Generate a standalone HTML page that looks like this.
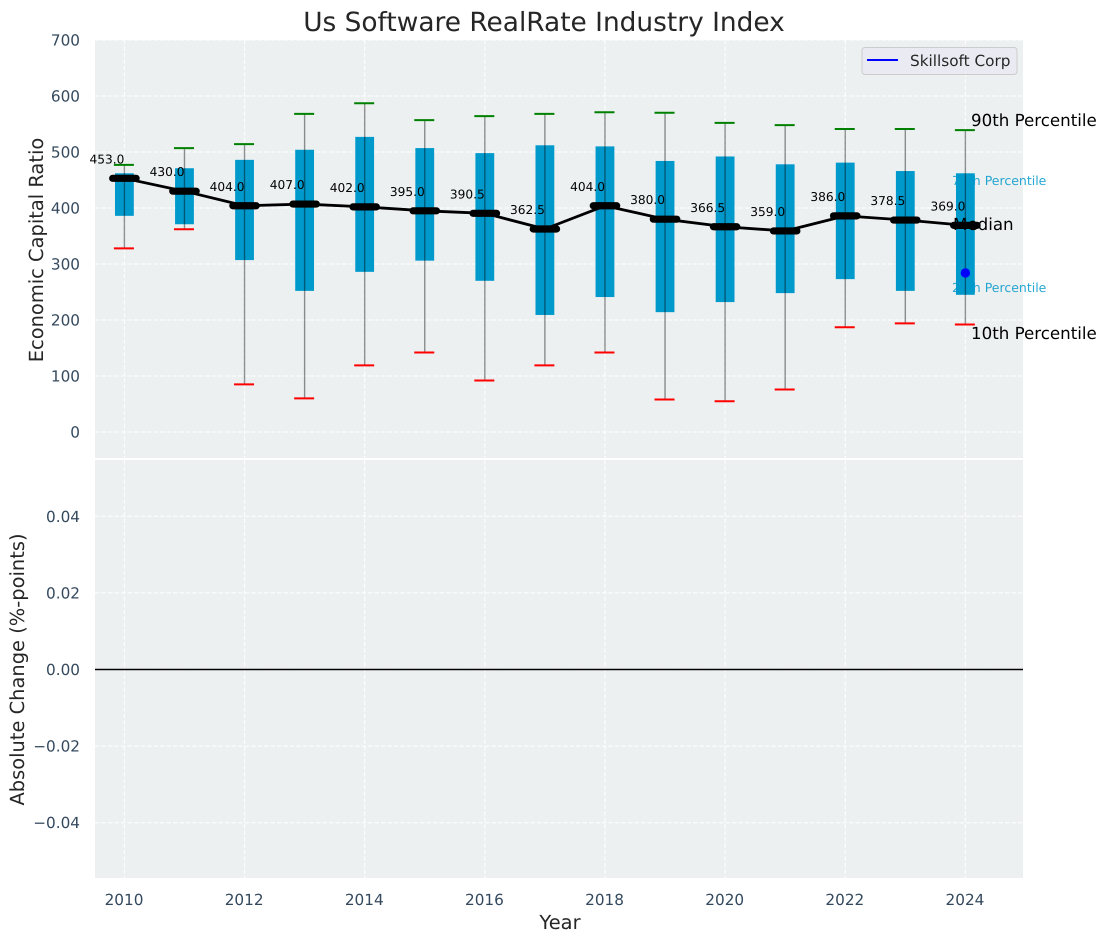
<!DOCTYPE html>
<html>
<head>
<meta charset="utf-8">
<title>Us Software RealRate Industry Index</title>
<style>
html,body{margin:0;padding:0;background:#fff;}
svg{display:block;font-family:"DejaVu Sans","Liberation Sans",sans-serif;text-rendering:geometricPrecision;}
</style>
</head>
<body>
<svg id="chart" xmlns="http://www.w3.org/2000/svg" width="1106" height="942" viewBox="0 0 1106 942">
  <rect x="95" y="40" width="928" height="418" fill="#ecf0f1"/>
  <rect x="95" y="460" width="928" height="418" fill="#ecf0f1"/>
  <g id="grid"></g>
  <g id="ticks"></g>
  <g id="annotations-under">
    <text x="952" y="185" font-size="12.5" fill="#0099cc" opacity="0.85">75th Percentile</text>
    <text x="952" y="292" font-size="12.5" fill="#0099cc" opacity="0.85">25th Percentile</text>
  </g>
  <g id="marks"></g>
  <g id="annotations">
    <text x="971" y="126" font-size="16.67" fill="#000">90th Percentile</text>
    <text x="953" y="230" font-size="16.67" fill="#000">Median</text>
    <text x="971" y="339" font-size="16.67" fill="#000">10th Percentile</text>
  </g>
  <text x="544" y="31" text-anchor="middle" font-size="26.4" fill="#262626">Us Software RealRate Industry Index</text>
  <text transform="translate(43,250) rotate(-90)" text-anchor="middle" font-size="19.44" fill="#262626">Economic Capital Ratio</text>
  <text transform="translate(24,669.500) rotate(-90)" text-anchor="middle" font-size="19.44" fill="#262626">Absolute Change (%-points)</text>
  <text x="560" y="929" text-anchor="middle" font-size="19.44" fill="#262626">Year</text>
  <g>
    <rect x="862" y="47.500" width="155" height="27" rx="3" fill="#eaeaf2" fill-opacity="0.9" stroke="#cccccc"/>
    <line x1="867" x2="898" y1="60" y2="60" stroke="#0000ff" stroke-width="2"/>
    <text x="910" y="66" font-size="15.28" fill="#262626">Skillsoft Corp</text>
  </g>
</svg>
<script>
const years = [2010,2011,2012,2013,2014,2015,2016,2017,2018,2019,2020,2021,2022,2023,2024];
const p90 = [477,507,514,568,587,557,564,568,571,570,552,548,541,541,539];
const p75 = [462,471,486,504,527,507,498,512,510,484,492,478,481,466,462];
const medians = [453.0,430.0,404.0,407.0,402.0,395.0,390.5,362.5,404.0,380.0,366.5,359.0,386.0,378.5,369.0];
const p25 = [386,371,307,252,286,306,270,209,241,214,232,248,273,252,245];
const p10 = [328,362,85,60,119,142,92,119,142,58,55,76,187,194,192];
const companyYear = [2024];
const companyValue = [284];
const topTicks = [0,100,200,300,400,500,600,700];
const bottomTicks = [-0.04,-0.02,0,0.02,0.04];
const xTicks = [2010,2012,2014,2016,2018,2020,2022,2024];

const NS = 'http://www.w3.org/2000/svg';
const xs = function (v) { return 124.4 + (v - 2010) * 60.07; };
const ysTop = function (v) { return 432 - v * 0.56; };
const ysBottom = function (v) { return 669.5 - v * 3831; };

function make(parent, tag, attrs, text) {
  const el = document.createElementNS(NS, tag);
  Object.keys(attrs).forEach(function (k) { el.setAttribute(k, attrs[k]); });
  if (text !== undefined) el.textContent = text;
  parent.appendChild(el);
  return el;
}

const grid = document.getElementById('grid');
const ticks = document.getElementById('ticks');
const marks = document.getElementById('marks');
const gridStyle = {stroke: '#ffffff', 'stroke-width': 1.2, 'stroke-dasharray': '4.500 2', opacity: 0.85};

xTicks.forEach(function (t) {
  [[40, 458], [460, 878]].forEach(function (span) {
    const g = make(grid, 'line', Object.assign({x1: xs(t), x2: xs(t), y1: span[0], y2: span[1]}, gridStyle));
    
    
  });
  const lab = make(ticks, 'text', {x: xs(t) - 0.4, y: 905, 'text-anchor': 'middle', 'font-size': 15.28, fill: '#34495e'}, String(t));
  
  
});

topTicks.forEach(function (t) {
  const g = make(grid, 'line', Object.assign({x1: 95, x2: 1023, y1: ysTop(t), y2: ysTop(t)}, gridStyle));
  
  
  const lab = make(ticks, 'text', {x: 80, y: ysTop(t) + 5.5, 'text-anchor': 'end', 'font-size': 15.28, fill: '#34495e'}, String(t));
  
  
});

bottomTicks.forEach(function (t) {
  const g = make(grid, 'line', Object.assign({x1: 95, x2: 1023, y1: ysBottom(t), y2: ysBottom(t)}, gridStyle));
  
  
  const text = (t < 0 ? '\u2212' : '') + Math.abs(t).toFixed(2);
  const lab = make(ticks, 'text', {x: 80, y: ysBottom(t) + 5.5, 'text-anchor': 'end', 'font-size': 15.28, fill: '#34495e'}, text);
  
  
});

const zero = make(marks, 'line', {x1: 95, x2: 1023, y1: ysBottom(0), y2: ysBottom(0), stroke: '#000', 'stroke-width': 1.4});



years.forEach(function (y, i) {
  const x = xs(y);
  const box = make(marks, 'rect', {x: x - 9.4, y: ysTop(p75[i]), width: 18.8, height: ysTop(p25[i]) - ysTop(p75[i]), fill: '#0099cc'});
  
  
  const whisker = make(marks, 'line', {x1: x, x2: x, y1: ysTop(p90[i]), y2: ysTop(p10[i]), stroke: '#000', 'stroke-opacity': 0.42, 'stroke-width': 1.4});
  
  
  const high = make(marks, 'line', {x1: x - 10.5, x2: x + 9.5, y1: ysTop(p90[i]), y2: ysTop(p90[i]), stroke: '#008000', 'stroke-width': 2});
  
  
  const low = make(marks, 'line', {x1: x - 10.5, x2: x + 9.5, y1: ysTop(p10[i]), y2: ysTop(p10[i]), stroke: '#ff0000', 'stroke-width': 2});
  
  
});

const medianPoints = years.map(function (y, i) { return xs(y) + ',' + ysTop(medians[i]); }).join(' ');
const medianLine = make(marks, 'polyline', {points: medianPoints, fill: 'none', stroke: '#000', 'stroke-width': 2.8, 'stroke-linejoin': 'round'});



years.forEach(function (y, i) {
  const x = xs(y);
  const cap = make(marks, 'line', {x1: x - 11.7, x2: x + 11.7, y1: ysTop(medians[i]), y2: ysTop(medians[i]), stroke: '#000', 'stroke-width': 7.2, 'stroke-linecap': 'round'});
  
  
  const lab = make(marks, 'text', {x: x, y: ysTop(medians[i]) - 15, 'text-anchor': 'end', 'font-size': 12.2, fill: '#000'}, medians[i].toFixed(1));
  
  
});

companyYear.forEach(function (y, i) {
  const dot = make(marks, 'circle', {cx: xs(y), cy: ysTop(companyValue[i]), r: 4.7, fill: '#0000ff'});
  
  
});
</script>
</body>
</html>
